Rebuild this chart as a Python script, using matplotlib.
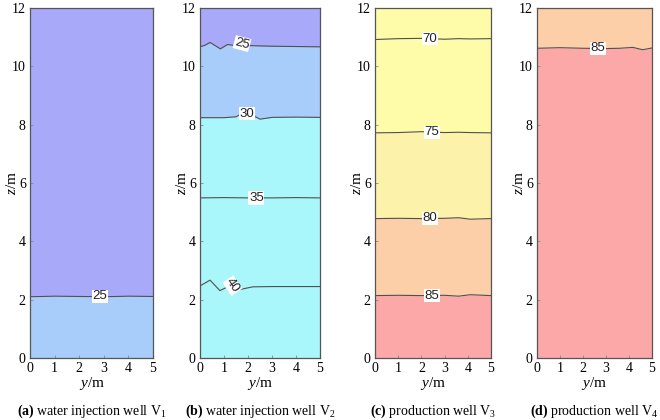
import matplotlib
matplotlib.use("Agg")
import matplotlib.pyplot as plt

plt.rcParams["font.family"] = "serif"
plt.rcParams["font.serif"] = ["Liberation Serif"]
plt.rcParams["mathtext.fontset"] = "custom"
plt.rcParams["mathtext.rm"] = "Liberation Serif"
plt.rcParams["mathtext.it"] = "Liberation Serif:italic"
plt.rcParams["mathtext.bf"] = "Liberation Serif:bold"

SANS = "Liberation Sans"

# colours of the filled bands
C_LAV = "#a9a9fa"
C_BLUE = "#a9cdfb"
C_CYAN = "#a9f6fb"
C_YEL = "#fefba9"
C_YEL2 = "#fdf2a9"
C_PEACH = "#fccfa8"
C_PINK = "#fca8a9"

# contour boundary heights z (m) sampled along y (m), read off the picture
# (a) injection well V1
a_y = [0, 1, 2, 3, 4, 5]
a_25 = [2.10, 2.12, 2.11, 2.10, 2.12, 2.11]

# (b) injection well V2
b25_y = [0, 0.2, 0.42, 0.85, 1.15, 1.4, 1.7, 2.1, 3.0, 4.0, 5.0]
b25_z = [10.67, 10.72, 10.82, 10.60, 10.75, 10.72, 10.74, 10.71, 10.69, 10.68, 10.67]
b30_y = [0, 1.0, 1.5, 1.8, 2.1, 2.5, 3.0, 4.0, 5.0]
b30_z = [8.24, 8.24, 8.27, 8.40, 8.36, 8.19, 8.25, 8.26, 8.25]
b35_y = [0, 1, 2, 3, 4, 5]
b35_z = [5.49, 5.50, 5.49, 5.49, 5.50, 5.49]
b40_y = [0, 0.42, 0.83, 1.1, 1.35, 1.67, 2.2, 3.0, 4.0, 5.0]
b40_z = [2.47, 2.67, 2.31, 2.42, 2.50, 2.35, 2.44, 2.45, 2.45, 2.45]

# (c) production well V3
c_y = [0, 1, 2, 3, 3.6, 4.1, 5]
c_70 = [10.92, 10.95, 10.96, 10.93, 10.95, 10.94, 10.95]
c_75 = [7.72, 7.73, 7.76, 7.73, 7.74, 7.73, 7.72]
c_80 = [4.78, 4.79, 4.78, 4.79, 4.81, 4.76, 4.78]
c_85 = [2.14, 2.15, 2.14, 2.15, 2.12, 2.17, 2.14]

# (d) production well V4
d_y = [0, 1, 2, 3, 3.6, 4.17, 4.6, 5]
d_85 = [10.62, 10.64, 10.62, 10.61, 10.62, 10.65, 10.57, 10.63]

# contour labels: (text, y, z, rotation)
a_labels = [("25", 2.85, 2.11, 0)]
b_labels = [("25", 1.75, 10.78, -15), ("30", 1.95, 8.38, 0),
            ("35", 2.35, 5.49, 0), ("40", 1.35, 2.48, -55)]
c_labels = [("70", 2.35, 10.95, 0), ("75", 2.45, 7.74, 0),
            ("80", 2.35, 4.79, 0), ("85", 2.45, 2.14, 0)]
d_labels = [("85", 2.65, 10.62, 0)]

captions = [r"$\mathbf{(a)}$ water injection well V$_1$",
            r"$\mathbf{(b)}$ water injection well V$_2$",
            r"$\mathbf{(c)}$ production well V$_3$",
            r"$\mathbf{(d)}$ production well V$_4$"]

# panel boxes in figure fractions: left, bottom, width, height
boxes = [(0.0455, 0.1476, 0.1864, 0.8333),
         (0.3030, 0.1476, 0.1818, 0.8333),
         (0.5682, 0.1476, 0.1758, 0.8333),
         (0.8136, 0.1476, 0.1742, 0.8333)]

fig = plt.figure(figsize=(6.6, 4.2), dpi=100)
axes = [fig.add_axes(b) for b in boxes]

LINE = dict(color="#505050", linewidth=0.8)


def band(ax, ys, lower, upper, color):
    ax.fill_between(ys, lower, upper, color=color, linewidth=0)


# (a)
ax = axes[0]
band(ax, a_y, a_25, 12, C_LAV)
band(ax, a_y, 0, a_25, C_BLUE)
ax.plot(a_y, a_25, **LINE)

# (b)
ax = axes[1]
band(ax, [0, 5], 0, 12, C_CYAN)
band(ax, b30_y, b30_z, 12, C_BLUE)
band(ax, b25_y, b25_z, 12, C_LAV)
for ys, zs in [(b25_y, b25_z), (b30_y, b30_z), (b35_y, b35_z), (b40_y, b40_z)]:
    ax.plot(ys, zs, **LINE)

# (c)
ax = axes[2]
band(ax, c_y, c_70, 12, C_YEL)
band(ax, c_y, c_75, c_70, C_YEL)
band(ax, c_y, c_80, c_75, C_YEL2)
band(ax, c_y, c_85, c_80, C_PEACH)
band(ax, c_y, 0, c_85, C_PINK)
for zs in [c_70, c_75, c_80, c_85]:
    ax.plot(c_y, zs, **LINE)

# (d)
ax = axes[3]
band(ax, d_y, d_85, 12, C_PEACH)
band(ax, d_y, 0, d_85, C_PINK)
ax.plot(d_y, d_85, **LINE)

for ax, labels, cap in zip(axes, [a_labels, b_labels, c_labels, d_labels], captions):
    for txt, yy, zz, rot in labels:
        ax.text(yy, zz, txt, ha="center", va="center", rotation=rot,
                fontsize=9.5, family=SANS, color="#222222",
                bbox=dict(boxstyle="square,pad=0.05", fc="white", ec="none"))
    ax.set_xlim(0, 5)
    ax.set_ylim(0, 12)
    ax.set_xticks(range(0, 6))
    ax.set_yticks(range(0, 13, 2))
    ax.tick_params(direction="in", length=2, width=0.6, color="#888888",
                   labelsize=10, pad=3)
    for sp in ax.spines.values():
        sp.set_color("#555555")
        sp.set_linewidth(0.9)
    ax.set_xlabel(r"$y$/m", fontsize=11, labelpad=0)
    ax.set_ylabel(r"$z$/m", fontsize=11, labelpad=-5)
    ax.text(0.5, -0.152, cap, transform=ax.transAxes, ha="center", va="center",
            fontsize=10)

fig.savefig("out.png", dpi=100)
